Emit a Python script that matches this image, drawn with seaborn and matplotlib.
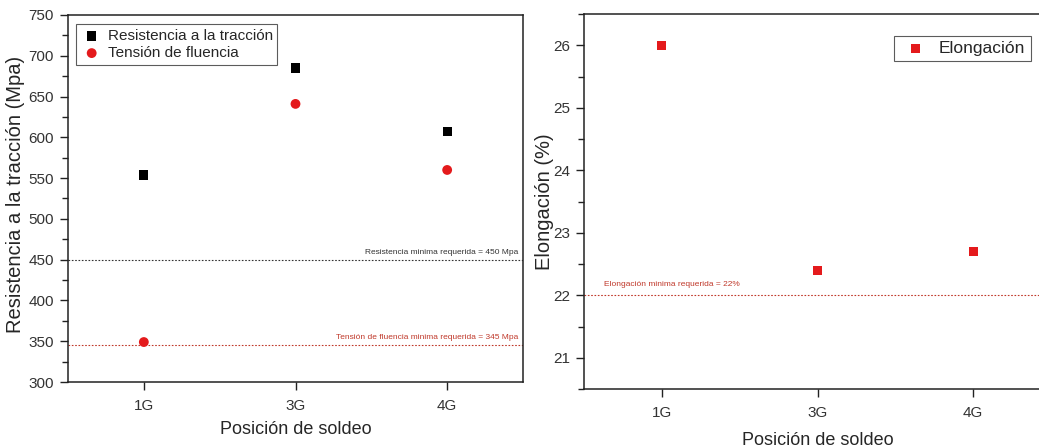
import matplotlib
matplotlib.use("Agg")
import matplotlib.pyplot as plt
import seaborn as sns
import pandas as pd
from matplotlib.ticker import MultipleLocator

# Data
posiciones = ["1G", "3G", "4G"]
resistencia_traccion = [554, 685, 607]
tension_fluencia = [349, 641, 560]
elongacion = [26.0, 22.4, 22.7]
resistencia_minima = 450
fluencia_minima = 345
elongacion_minima = 22

sns.set_style("ticks")
plt.rcParams["font.family"] = ["Liberation Sans", "DejaVu Sans"]

W, H = 1039, 448
fig = plt.figure(figsize=(W / 100, H / 100), dpi=100)

def px_axes(x0, y0, x1, y1):
    return fig.add_axes([x0 / W, 1 - y1 / H, (x1 - x0) / W, (y1 - y0) / H])

ax1 = px_axes(68, 15, 523, 382)
ax2 = px_axes(584, 14, 1051, 389)

red = "#e41a1c"
dark_red = "#c0392b"

df1 = pd.DataFrame({"pos": posiciones, "res": resistencia_traccion, "ten": tension_fluencia})
df2 = pd.DataFrame({"pos": posiciones, "elo": elongacion})

sns.scatterplot(data=df1, x="pos", y="res", ax=ax1, marker="s", s=45, color="black",
                edgecolor="none", label="Resistencia a la tracción", zorder=3)
sns.scatterplot(data=df1, x="pos", y="ten", ax=ax1, marker="o", s=50, color=red,
                edgecolor="none", label="Tensión de fluencia", zorder=3)

ax1.axhline(resistencia_minima, color="#333333", ls=(0, (1.5, 1.5)), lw=0.8)
ax1.axhline(fluencia_minima, color=dark_red, ls=(0, (1.5, 1.5)), lw=0.8)
ax1.text(2.47, resistencia_minima + 5, "Resistencia minima requerida = 450 Mpa",
         ha="right", va="bottom", fontsize=6, color="#333333")
ax1.text(2.47, fluencia_minima + 5, "Tensión de fluencia minima requerida = 345 Mpa",
         ha="right", va="bottom", fontsize=6, color=dark_red)

ax1.set_xlim(-0.5, 2.5)
ax1.set_ylim(300, 750)
ax1.yaxis.set_major_locator(MultipleLocator(50))
ax1.yaxis.set_minor_locator(MultipleLocator(25))
ax1.set_xlabel("Posición de soldeo", fontsize=13, labelpad=6)
ax1.set_ylabel("Resistencia a la tracción (Mpa)", fontsize=14.5)
ax1.yaxis.set_label_coords(-0.095, 0.51)

sns.scatterplot(data=df2, x="pos", y="elo", ax=ax2, marker="s", s=45, color=red,
                edgecolor="none", label="Elongación", zorder=3)
ax2.axhline(elongacion_minima, color=dark_red, ls=(0, (1.5, 1.5)), lw=0.8)
ax2.text(-0.37, elongacion_minima + 0.12, "Elongación minima requerida = 22%",
         ha="left", va="bottom", fontsize=6, color=dark_red)
ax2.set_xlim(-0.5, 2.5)
ax2.set_ylim(20.5, 26.5)
ax2.yaxis.set_major_locator(MultipleLocator(1))
ax2.yaxis.set_minor_locator(MultipleLocator(0.5))
ax2.set_xlabel("Posición de soldeo", fontsize=13, labelpad=9)
ax2.set_ylabel("Elongación (%)", fontsize=14.5)
ax2.yaxis.set_label_coords(-0.064, 0.5)

for ax in (ax1, ax2):
    for sp in ax.spines.values():
        sp.set_color("#222222")
        sp.set_linewidth(1.1)
    ax.tick_params(axis="x", which="major", direction="out", length=6, width=1, pad=6,
                   labelsize=11, color="#222222", labelcolor="#333333")
    ax.tick_params(axis="y", which="major", direction="out", length=6, width=1, pad=4,
                   labelsize=11, color="#222222", labelcolor="#333333")
    ax.tick_params(axis="y", which="minor", direction="out", length=4.5, width=1,
                   color="#222222", left=True)

leg1 = ax1.legend(loc="upper left", bbox_to_anchor=(0.0, 0.995), fontsize=11, frameon=True,
                  fancybox=False, edgecolor="#333333", handletextpad=0.3, borderpad=0.3,
                  labelspacing=0.2, handlelength=1.5)
leg1.get_frame().set_linewidth(0.8)
leg2 = ax2.legend(loc="upper right", bbox_to_anchor=(0.975, 0.965), fontsize=12.5, frameon=True,
                  fancybox=False, edgecolor="#333333", handletextpad=0.4, borderpad=0.3,
                  handlelength=1.9)
leg2.get_frame().set_linewidth(0.8)

fig.savefig("out.png", dpi=100)
